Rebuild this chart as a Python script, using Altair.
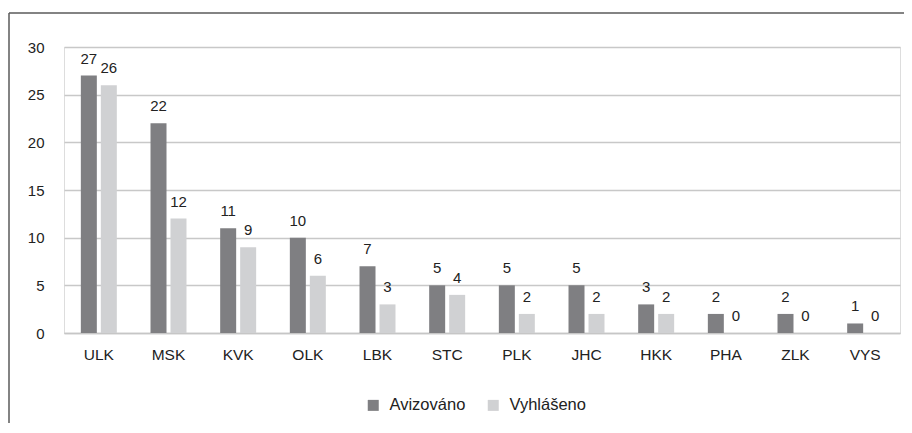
import altair as alt
import pandas as pd

regions = ["ULK", "MSK", "KVK", "OLK", "LBK", "STC", "PLK", "JHC", "HKK", "PHA", "ZLK", "VYS"]
avizovano = [27, 22, 11, 10, 7, 5, 5, 5, 3, 2, 2, 1]
vyhlaseno = [26, 12, 9, 6, 3, 4, 2, 2, 2, 0, 0, 0]
series = ["Avizováno", "Vyhlášeno"]
colors = ["#7f7f82", "#d0d1d3"]
y_ticks = [0, 5, 10, 15, 20, 25, 30]

rows = []
for r, a, v in zip(regions, avizovano, vyhlaseno):
    rows.append({"kraj": r, "serie": series[0], "pocet": a})
    rows.append({"kraj": r, "serie": series[1], "pocet": v})
df = pd.DataFrame(rows)

W, H = 836, 286
FONT = "Liberation Sans"
TXT = "#222222"

x = alt.X("kraj:N", sort=regions,
          scale=alt.Scale(paddingInner=0, paddingOuter=0),
          axis=alt.Axis(title=None, labelAngle=0, ticks=False, domain=True,
                        domainColor="#c6c6c6", domainWidth=1.5, labelPadding=14,
                        labelFontSize=15.5, labelColor=TXT, labelFont=FONT))
xo = alt.XOffset("serie:N", sort=series,
                 scale=alt.Scale(paddingInner=0.2, paddingOuter=0.8425))
y = alt.Y("pocet:Q", scale=alt.Scale(domain=[0, 30]),
          axis=alt.Axis(title=None, values=y_ticks, grid=True, gridColor="#c8c8c8",
                        gridWidth=1.5, domain=False, ticks=False, labelPadding=20,
                        labelFontSize=15, labelColor=TXT, labelFont=FONT))
color = alt.Color("serie:N", sort=series,
                  scale=alt.Scale(domain=series, range=colors),
                  legend=alt.Legend(title=None, orient="none", legendX=301, legendY=350,
                                    direction="horizontal", symbolType="square",
                                    symbolSize=121, symbolStrokeWidth=0,
                                    labelFontSize=16.5, labelFont=FONT, labelColor=TXT,
                                    columnPadding=19, labelOffset=8))

base = alt.Chart(df)
bars = base.mark_bar().encode(x=x, xOffset=xo, y=y, color=color)
labels = base.mark_text(baseline="alphabetic", dy=-12, fontSize=15, font=FONT,
                        color=TXT).encode(x=x, xOffset=xo, y=y, text="pocet:Q")

frame_df = pd.DataFrame({"k": [0]})
top_line = alt.Chart(frame_df).mark_rule(color="#5a5a5a", strokeWidth=1.5).encode(
    x=alt.value(-55), x2=alt.value(W + 4), y=alt.value(-34))
left_line = alt.Chart(frame_df).mark_rule(color="#5a5a5a", strokeWidth=1.5).encode(
    x=alt.value(-55), y=alt.value(-34), y2=alt.value(H + 90))

chart = alt.layer(bars, labels, top_line, left_line).properties(
    width=W, height=H,
    autosize=alt.AutoSizeParams(type="none"),
    padding={"left": 56, "top": 39, "right": 4, "bottom": 90},
).configure_view(stroke=None).configure(font=FONT)

chart.save("out.html", embed_options={"renderer": "svg", "actions": False})
